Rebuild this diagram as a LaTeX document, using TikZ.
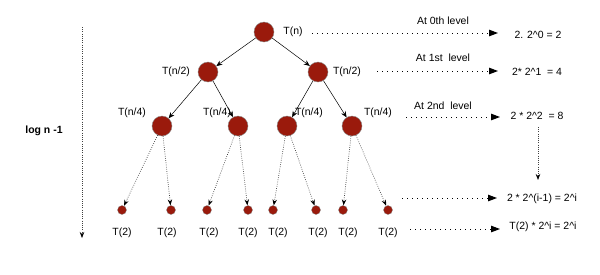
\documentclass[tikz,border=0pt]{standalone}
\usepackage{fontspec}
\setmainfont{Liberation Sans}
\usetikzlibrary{arrows.meta}
\definecolor{nodered}{HTML}{9A1A0C}
\definecolor{rimgray}{HTML}{8A8A8A}
\tikzset{
  big/.style={circle, fill=nodered, draw=rimgray, line width=0.4bp, minimum size=20bp, inner sep=0pt},
  leaf/.style={circle, fill=nodered, draw=rimgray, line width=0.3bp, minimum size=9bp, inner sep=0pt},
  lbl/.style={font=\fontsize{10.5}{12}\selectfont, inner sep=0pt},
  edge/.style={line width=0.5bp, -{Stealth[length=6bp,width=5bp]}},
  dotedge/.style={line width=0.7bp, draw=darkgray, dash pattern=on 0.7bp off 1.5bp, -{Stealth[length=6bp,width=4.5bp,black]}},
  levelarrow/.style={line width=1bp, dash pattern=on 1bp off 4bp, -{Triangle[length=9bp,width=6.5bp]}}
}
\begin{document}
\begin{tikzpicture}[x=1bp,y=-1bp]
\useasboundingbox (0,0) rectangle (600,274);
% tree
\node[big] (r) at (264,32) {};
\node[big] (a) at (208,72) {};
\node[big] (b) at (318,72) {};
\node[big] (a1) at (162,126) {};
\node[big] (a2) at (238,126) {};
\node[big] (b1) at (287,126) {};
\node[big] (b2) at (352,126) {};
\draw[edge] (r) -- (a);
\draw[edge] (r) -- (b);
\draw[edge] (a) -- (a1);
\draw[edge] (a) -- (a2);
\draw[edge] (b) -- (b1);
\draw[edge] (b) -- (b2);
\node[lbl] (tr) at (293,32) {T(n)};
\node[lbl] (ta) at (176,72) {T(n/2)};
\node[lbl] (tb) at (347,72) {T(n/2)};
\node[lbl] (ta1) at (132,113) {T(n/4)};
\node[lbl] (ta2) at (217,113) {T(n/4)};
\node[lbl] (tb1) at (309,113) {T(n/4)};
\node[lbl] (tb2) at (378,113) {T(n/4)};
% leaves
\foreach \i/\x/\lx/\p in {1/122/122/a1, 2/171/167/a1, 3/207/209/a2, 4/248/248/a2,
                          5/273/278/b1, 6/316/318/b1, 7/343/348/b2, 8/388/388/b2} {
  \node[leaf] (l\i) at (\x,210) {};
  \node[lbl] (tl\i) at (\lx,233) {T(2)};
  \draw[dotedge] (\p) -- (l\i);
}
% depth
\node[lbl, font=\fontsize{10.5}{12}\selectfont\bfseries] (depth) at (44,131) {log n -1};
\coordinate (d0) at (82,27);
\coordinate (d1) at (82,238);
\draw[dotedge] (d0) -- (d1);
% levels
\node[lbl] (lv0) at (443,21) {At 0th level};
\node[lbl] (lv1) at (443,58) {At 1st\ \ level};
\node[lbl] (lv2) at (443,106) {At 2nd\ \ level};
\node[lbl] (s0) at (538,35) {2. 2\^{}0 = 2};
\node[lbl] (s1) at (537,72) {2* 2\^{}1\ \ = 4};
\node[lbl] (s2) at (537,116) {2 * 2\^{}2\ \ = 8};
\node[lbl] (si) at (542,199) {2 * 2\^{}(i-1) = 2\^{}i};
\node[lbl] (st) at (543,227) {T(2) * 2\^{}i = 2\^{}i};
\coordinate (e0) at (312,33);  \coordinate (f0) at (498,33);
\coordinate (e1) at (377,71);  \coordinate (f1) at (498,71);
\coordinate (e2) at (406,117); \coordinate (f2) at (500,117);
\coordinate (e3) at (402,198); \coordinate (f3) at (497,198);
\coordinate (e4) at (410,229); \coordinate (f4) at (500,229);
\foreach \k in {0,...,4}
  \draw[levelarrow] (e\k) -- (f\k);
\coordinate (v0) at (538,127);
\coordinate (v1) at (538,180);
\draw[dotedge] (v0) -- (v1);
\end{tikzpicture}
\end{document}
